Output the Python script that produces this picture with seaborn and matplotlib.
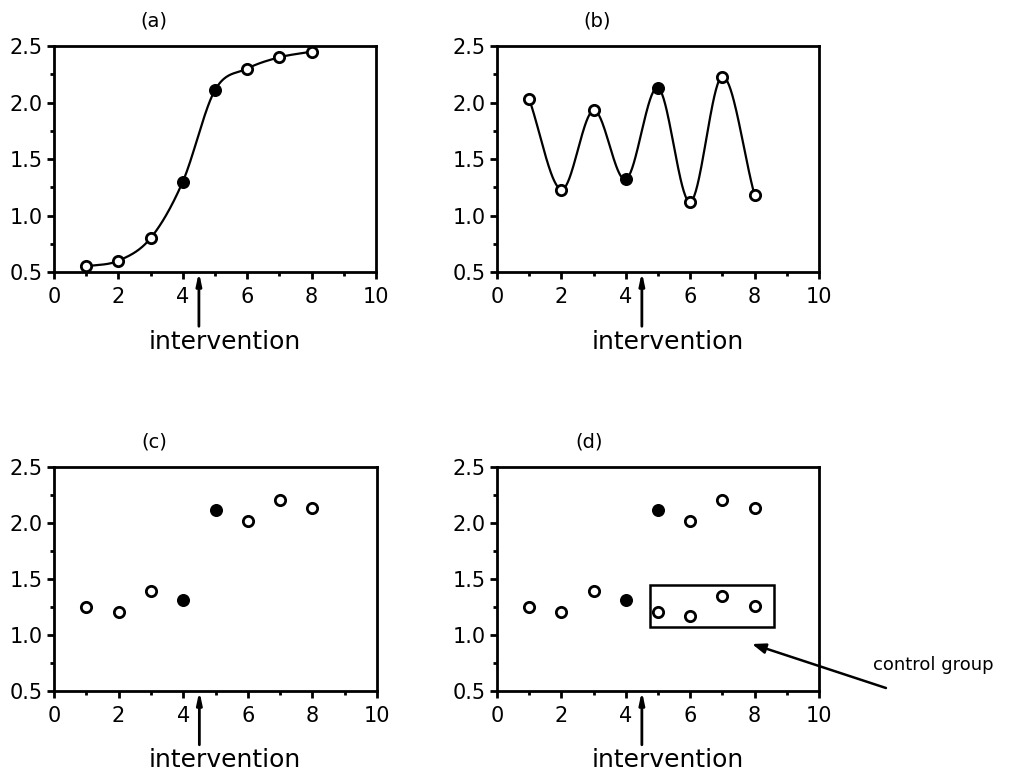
import numpy as np
import pandas as pd
import matplotlib
matplotlib.use('Agg')
import matplotlib.pyplot as plt
import seaborn as sns
from matplotlib.patches import Rectangle
from matplotlib.ticker import MultipleLocator, FormatStrFormatter

sns.set_style('ticks')
plt.rcParams['font.family'] = ['DejaVu Sans']
plt.rcParams.update({'text.color': 'black', 'axes.edgecolor': 'black',
                     'xtick.color': 'black', 'ytick.color': 'black',
                     'axes.labelcolor': 'black'})

# data
weeks = [1, 2, 3, 4, 5, 6, 7, 8]
filled_weeks = [4, 5]
y_a = [0.55, 0.60, 0.80, 1.30, 2.11, 2.30, 2.40, 2.45]
y_b = [2.03, 1.23, 1.93, 1.32, 2.13, 1.12, 2.23, 1.18]
y_c = [1.25, 1.21, 1.39, 1.31, 2.12, 2.02, 2.21, 2.13]
control_weeks = [5, 6, 7, 8]
y_control = [1.21, 1.17, 1.35, 1.26]
panel_labels = ['(a)', '(b)', '(c)', '(d)']


def smooth_curve(x, y, n=40):
    # hermite curve through the points (just for drawing the line)
    x = np.asarray(x, float)
    y = np.asarray(y, float)
    m = np.empty_like(y)
    m[1:-1] = (y[2:] - y[:-2]) / 2
    m[0] = y[1] - y[0]
    m[-1] = y[-1] - y[-2]
    xs, ys = [], []
    for i in range(len(x) - 1):
        t = np.linspace(0, 1, n, endpoint=(i == len(x) - 2))
        h00 = 2 * t**3 - 3 * t**2 + 1
        h10 = t**3 - 2 * t**2 + t
        h01 = -2 * t**3 + 3 * t**2
        h11 = t**3 - t**2
        xs.append(x[i] + t * (x[i + 1] - x[i]))
        ys.append(h00 * y[i] + h10 * m[i] + h01 * y[i + 1] + h11 * m[i + 1])
    return np.concatenate(xs), np.concatenate(ys)


def draw_points(ax, x, y):
    df = pd.DataFrame({'x': x, 'y': y})
    df['filled'] = df['x'].isin(filled_weeks)
    sns.scatterplot(data=df[~df['filled']], x='x', y='y', ax=ax, s=55,
                    facecolor='white', edgecolor='black', linewidth=2, zorder=5)
    sns.scatterplot(data=df[df['filled']], x='x', y='y', ax=ax, s=70,
                    color='black', edgecolor='black', linewidth=1, zorder=5)


def style_axes(ax, label, title_x):
    ax.set_xlim(0, 10)
    ax.set_ylim(0.5, 2.5)
    ax.xaxis.set_major_locator(MultipleLocator(2))
    ax.xaxis.set_minor_locator(MultipleLocator(1))
    ax.yaxis.set_major_locator(MultipleLocator(0.5))
    ax.yaxis.set_minor_locator(MultipleLocator(0.25))
    ax.yaxis.set_major_formatter(FormatStrFormatter('%.1f'))
    ax.tick_params(which='major', direction='out', length=5, width=2, labelsize=15, pad=3)
    ax.tick_params(axis='x', which='major', pad=6)
    ax.tick_params(which='minor', direction='out', length=3, width=2)
    for sp in ax.spines.values():
        sp.set_linewidth(2)
        sp.set_visible(True)
    ax.set_xlabel('')
    ax.set_ylabel('')
    ax.text(title_x, 1.11, label, transform=ax.transAxes, ha='center', va='center', fontsize=14)
    # intervention arrow below the axis
    ax.annotate('', xy=(4.5, 0.5), xytext=(4.5, 0.02), annotation_clip=False,
                arrowprops=dict(arrowstyle='-|>,head_length=0.7,head_width=0.15',
                                color='black', lw=2, shrinkA=0, shrinkB=0))
    ax.text(5.3, -0.12, 'intervention', ha='center', va='center', fontsize=18, clip_on=False)


fig = plt.figure(figsize=(10.19, 7.81), dpi=100)
ax_a = fig.add_axes([0.053, 0.6517, 0.316, 0.2894])
ax_b = fig.add_axes([0.4877, 0.6517, 0.316, 0.2894])
ax_c = fig.add_axes([0.053, 0.1152, 0.317, 0.2868])
ax_d = fig.add_axes([0.4877, 0.1152, 0.316, 0.2868])

# (a) smooth rising curve
cx, cy = smooth_curve(weeks, y_a)
sns.lineplot(x=cx, y=cy, ax=ax_a, color='black', linewidth=1.6, sort=False)
draw_points(ax_a, weeks, y_a)

# (b) oscillating curve
cx, cy = smooth_curve(weeks, y_b)
sns.lineplot(x=cx, y=cy, ax=ax_b, color='black', linewidth=1.6, sort=False)
draw_points(ax_b, weeks, y_b)

# (c) points only
draw_points(ax_c, weeks, y_c)

# (d) points plus control group
draw_points(ax_d, weeks, y_c)
sns.scatterplot(x=control_weeks, y=y_control, ax=ax_d, s=55,
                facecolor='white', edgecolor='black', linewidth=2, zorder=5)
ax_d.add_patch(Rectangle((4.75, 1.07), 3.85, 0.38, fill=False, edgecolor='black', linewidth=1.8))
ax_d.annotate('', xy=(7.92, 0.92), xytext=(12.08, 0.527), annotation_clip=False,
              arrowprops=dict(arrowstyle='-|>,head_length=0.8,head_width=0.3',
                              color='black', lw=1.8, shrinkA=0, shrinkB=0))
fig.text(0.857, 0.1485, 'control group', ha='left', va='center', fontsize=13)

for ax, lab, tx in zip([ax_a, ax_b, ax_c, ax_d], panel_labels, [0.31, 0.31, 0.31, 0.285]):
    style_axes(ax, lab, tx)

fig.savefig('out.png', dpi=100)
